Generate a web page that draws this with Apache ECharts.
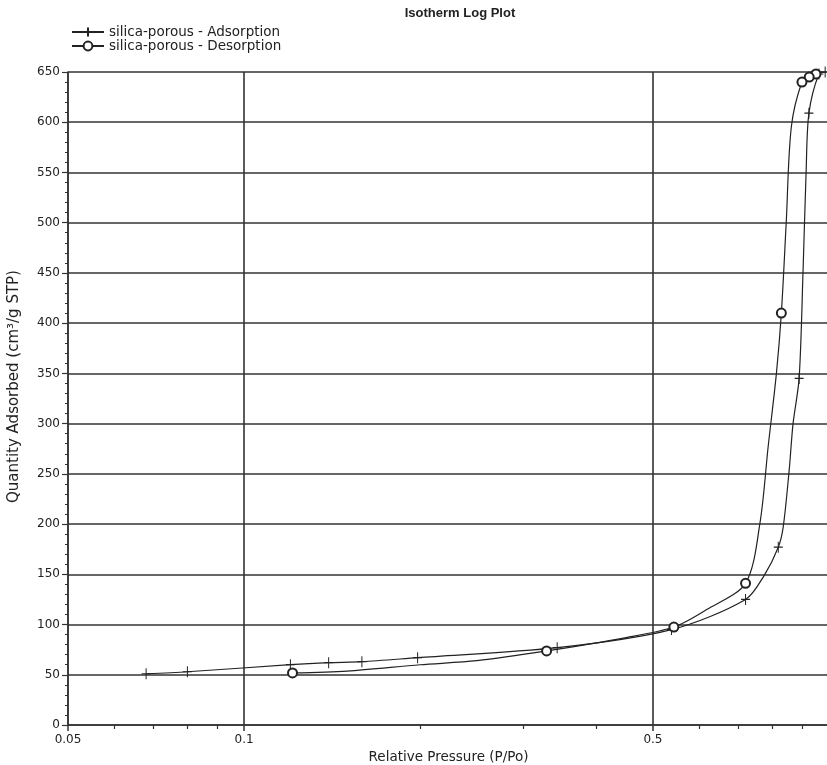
<!DOCTYPE html>
<html>
<head>
<meta charset="utf-8">
<title>Isotherm Log Plot</title>
<script src="https://cdn.jsdelivr.net/npm/echarts@6/dist/echarts.min.js"></script>
<style>
  html, body { margin: 0; padding: 0; background: #fff; }
  #main { width: 827px; height: 765px; }
</style>
</head>
<body>
<div id="main"></div>
<script>
// relative pressure / quantity adsorbed
var adsX = [0.068, 0.080, 0.120, 0.1395, 0.159, 0.198, 0.343, 0.538, 0.720, 0.775, 0.819, 0.835, 0.855, 0.868, 0.889, 0.903, 0.914, 0.924, 0.961, 0.985];
var adsY = [51, 53, 60, 62, 63, 67, 77, 95, 125, 149, 177, 197, 254, 300, 345, 453, 552, 609, 648, 650];
var adsMark = [1, 1, 1, 1, 1, 1, 1, 1, 1, 0, 1, 0, 0, 0, 1, 0, 0, 1, 1, 1];

var desX = [0.975, 0.950, 0.925, 0.899, 0.862, 0.845, 0.829, 0.813, 0.787, 0.762, 0.720, 0.618, 0.543, 0.45, 0.329, 0.25, 0.20, 0.15, 0.121];
var desY = [650, 648, 645, 640, 595, 500, 410, 350, 277, 201, 141, 115, 97.5, 87, 73.7, 64, 60, 53.7, 51.8];
var desMark = [0, 1, 1, 1, 0, 0, 1, 0, 0, 0, 1, 0, 1, 0, 1, 0, 0, 0, 1];

var xLabels = [0.05, 0.1, 0.5];
var xMinor = [0.06, 0.07, 0.08, 0.09, 0.2, 0.3, 0.4, 0.6, 0.7, 0.8, 0.9];

function points(xs, ys, marks) {
    var out = [];
    for (var i = 0; i < xs.length; i++) {
        var p = { value: [xs[i], ys[i]] };
        if (!marks[i]) p.symbol = 'none';
        out.push(p);
    }
    return out;
}

var ink = '#222';
var font = 'DejaVu Sans, Liberation Sans, sans-serif';

var chart = echarts.init(document.getElementById('main'));
chart.setOption({
    animation: false,
    backgroundColor: '#fff',
    textStyle: { fontFamily: font, color: ink },
    title: {
        text: 'Isotherm Log Plot',
        left: 455, top: 2, textAlign: 'center',
        textStyle: { fontSize: 13, fontWeight: 'bold', color: ink, fontFamily: 'Liberation Sans, Arial, sans-serif' }
    },
    legend: {
        orient: 'vertical',
        left: 66, top: 20,
        itemWidth: 32, itemHeight: 11, itemGap: 0,
        textStyle: { fontSize: 13.5, color: ink, fontFamily: font },
        data: ['silica-porous - Adsorption', 'silica-porous - Desorption']
    },
    grid: { left: 68, right: -2, top: 72, bottom: 40, outerBoundsMode: 'none' },
    xAxis: [{
        type: 'log', logBase: 10, min: 0.05, max: 1,
        name: 'Relative Pressure (P/Po)', nameLocation: 'middle', nameGap: 19,
        nameTextStyle: { fontSize: 13.5, color: ink },
        axisLine: { lineStyle: { color: '#333', width: 1.5 } },
        axisTick: { customValues: xLabels, length: 6, lineStyle: { color: '#333', width: 1.5 } },
        axisLabel: { customValues: xLabels, margin: 9, fontSize: 12, color: ink,
            formatter: function (v) { return String(+v.toPrecision(3)); } },
        splitLine: { show: true, lineStyle: { color: '#333', width: 1.6 } }
    }, {
        type: 'log', logBase: 10, min: 0.05, max: 1, position: 'bottom',
        axisLine: { show: false },
        axisTick: { customValues: xMinor, length: 4, lineStyle: { color: '#333', width: 1.2 } },
        axisLabel: { show: false },
        splitLine: { show: false }
    }],
    yAxis: {
        type: 'value', min: 0, max: 650, interval: 50,
        name: 'Quantity Adsorbed (cm\u00b3/g STP)', nameLocation: 'middle', nameGap: 46,
        nameTextStyle: { fontSize: 15, color: ink, padding: [0, 0, 0, 24] },
        axisLine: { show: true, lineStyle: { color: '#333', width: 1.5 } },
        axisTick: { show: true, length: 6, lineStyle: { color: '#333', width: 1.2 } },
        minorTick: { show: true, splitNumber: 5, length: 3, lineStyle: { color: '#333', width: 1 } },
        axisLabel: { margin: 8, fontSize: 12, color: ink },
        splitLine: { show: true, lineStyle: { color: '#333', width: 1.6 } }
    },
    series: [{
        name: 'silica-porous - Adsorption',
        type: 'line',
        smooth: 0.3,
        symbol: 'path://M5,0L5,12M0,6L10,6',
        symbolSize: [9, 11],
        itemStyle: { color: ink, borderColor: ink, borderWidth: 1.1 },
        lineStyle: { color: ink, width: 1.2 },
        data: points(adsX, adsY, adsMark)
    }, {
        name: 'silica-porous - Desorption',
        type: 'line',
        smooth: 0.3,
        symbol: 'emptyCircle',
        symbolSize: 9,
        itemStyle: { color: ink, borderColor: ink, borderWidth: 1 },
        lineStyle: { color: ink, width: 1.2 },
        data: points(desX, desY, desMark)
    }]
});
</script>
</body>
</html>
